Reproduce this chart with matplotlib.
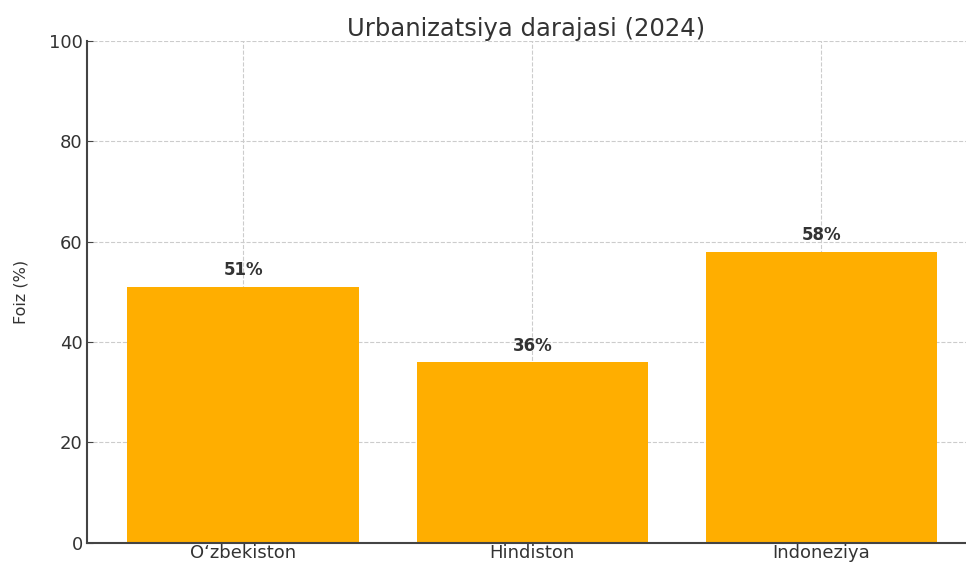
import matplotlib
matplotlib.use("Agg")
import matplotlib.pyplot as plt

# data
countries = ["Oʻzbekiston", "Hindiston", "Indoneziya"]
urban_pct = [51, 36, 58]
yticks = [0, 20, 40, 60, 80, 100]

bar_color = "#FFAE00"
text_color = "#333333"

fig = plt.figure(figsize=(9.66, 5.63), dpi=100)
ax = fig.add_axes([0.090, 0.036, 0.910, 0.891])

x = range(len(countries))
bars = ax.bar(x, urban_pct, width=0.8, color=bar_color, zorder=2)

# value labels above bars
for b, v in zip(bars, urban_pct):
    ax.text(b.get_x() + b.get_width() / 2, v + 1.5, f"{v}%",
            ha="center", va="bottom", fontsize=12, fontweight="bold",
            color=text_color)

ax.set_xticks(list(x))
ax.set_xticklabels(countries, fontsize=13, color=text_color)
ax.set_yticks(yticks)
ax.set_yticklabels([str(t) for t in yticks], fontsize=13, color=text_color)
ax.set_xlim(-0.54, 2.5)
ax.set_ylim(0, 100)

ax.set_title("Urbanizatsiya darajasi (2024)", fontsize=17.5, color=text_color, pad=4)
ax.set_ylabel("Foiz (%)", fontsize=11.5, color=text_color)
ax.yaxis.set_label_coords(-0.066, 0.5)

ax.grid(True, linestyle="--", color="#cccccc", linewidth=0.8, zorder=0)
ax.set_axisbelow(True)
for s in ["top", "right"]:
    ax.spines[s].set_visible(False)
for s in ["left", "bottom"]:
    ax.spines[s].set_color("#444444")
    ax.spines[s].set_linewidth(1.5)
ax.tick_params(axis="both", direction="in", length=4, color="#444444", pad=3)
ax.tick_params(axis="x", pad=1)

fig.savefig("out.png", dpi=100)
